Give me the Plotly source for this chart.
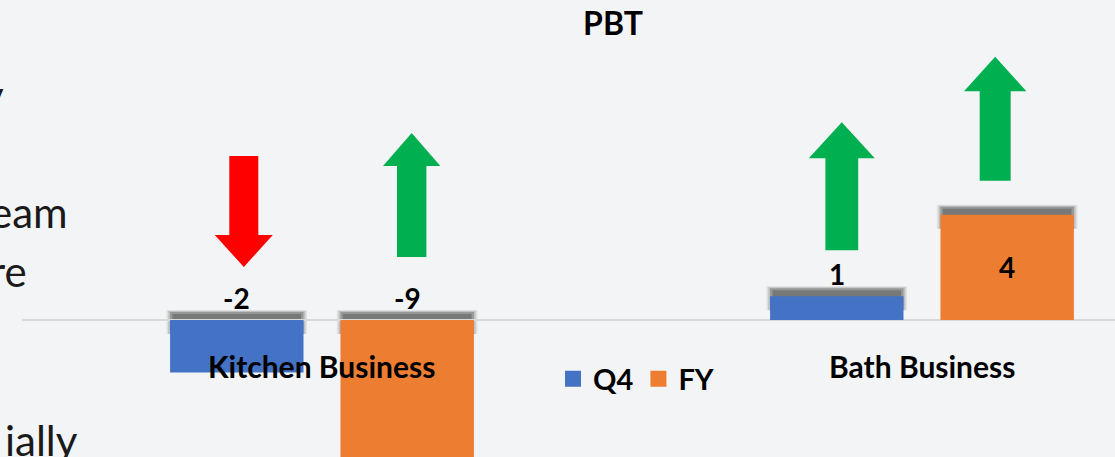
import plotly.graph_objects as go

# ---------------- data ----------------
categories = ["Kitchen Business", "Bath Business"]
series_names = ["Q4", "FY"]
q4_values = [-2, 0.9]
fy_values = [-9, 4]
q4_arrows = ["down", "up"]
fy_arrows = ["up", "up"]
chart_title = "PBT"
slide_fragments = ["y", "eam", "re", "ially"]

# ---------------- style ----------------
W, H = 1115, 457
ML = 22
BG = "#F3F4F6"
FONT = "Lato"
colors = {"Q4": "#4472C4", "FY": "#ED7D31"}
arrow_colors = {"up": "#00B050", "down": "#FF0000"}
BARGAP = 0.432
BARGROUPGAP = 0.217
X_RANGE = [-0.5, 1.3217]
Y_RANGE = [-5.21, 12.17]

# arrow geometry in pixels: (dx, gap above bar top, length, shaft half-w, head half-w, head length)
arrow_geom = {
    ("Q4", 0): (7, 53, 111, 14.5, 29, 32),
    ("FY", 0): (4.5, 63, 124, 14.7, 28.7, 33),
    ("Q4", 1): (5, 46, 128, 16.4, 33, 36),
    ("FY", 1): (-12, 34, 124, 15.5, 31.2, 34.4),
}
label_inside = {("FY", 1)}
# slide fragment placement (pixel right edge, pixel vertical centre)
fragment_pos = {"y": (6, 95), "eam": (70, 212), "re": (29, 271), "ially": (80, 440)}

series = [("Q4", q4_values, q4_arrows), ("FY", fy_values, fy_arrows)]
x_idx = list(range(len(categories)))

fig = go.Figure()
for name, vals, _ in series:
    fig.add_trace(go.Bar(
        x=x_idx, y=vals, name=name, showlegend=False, hoverinfo="skip",
        marker=dict(color=colors[name], line=dict(width=0)),
    ))
# legend entries (square markers)
for name, _, _ in series:
    fig.add_trace(go.Scatter(
        x=[None], y=[None], mode="markers", name=name,
        marker=dict(symbol="square", size=18, color=colors[name]),
    ))

group_w = 1 - BARGAP
slot_w = group_w / len(series)
bar_w = slot_w * (1 - BARGROUPGAP)

shapes = []
annotations = []
for k, (name, vals, dirs) in enumerate(series):
    for i, v in enumerate(vals):
        c = i - group_w / 2 + slot_w * (k + 0.5)
        top = max(v, 0)
        # soft shadow above the bar top
        for pad, y1, alpha in [(0.006, 10, 0.10), (0.003, 9, 0.20), (0.0, 8, 0.30), (-0.004, 6, 0.35)]:
            shapes.append(dict(
                type="rect", xref="x", yref="y", ysizemode="pixel", yanchor=top,
                x0=c - bar_w / 2 - pad, x1=c + bar_w / 2 + pad, y0=-14, y1=y1,
                fillcolor=f"rgba(60,60,60,{alpha})", line=dict(width=0), layer="below",
            ))
        # arrow
        dx, g, L, sw, hw, hl = arrow_geom[(name, i)]
        if dirs[i] == "up":
            pts = [(dx - sw, g), (dx + sw, g), (dx + sw, g + L - hl), (dx + hw, g + L - hl),
                   (dx, g + L), (dx - hw, g + L - hl), (dx - sw, g + L - hl)]
        else:
            pts = [(dx, g), (dx + hw, g + hl), (dx + sw, g + hl), (dx + sw, g + L),
                   (dx - sw, g + L), (dx - sw, g + hl), (dx - hw, g + hl)]
        path = "M " + " L ".join(f"{px:.1f},{py:.1f}" for px, py in pts) + " Z"
        shapes.append(dict(
            type="path", xref="x", yref="y", xsizemode="pixel", ysizemode="pixel",
            xanchor=c, yanchor=top, path=path, fillcolor=arrow_colors[dirs[i]],
            line=dict(width=0), layer="above",
        ))
        # data label
        if (name, i) in label_inside:
            ly, shift = v / 2, 0
        else:
            ly, shift = top, 22
        annotations.append(dict(
            x=c, y=ly, xref="x", yref="y", yshift=shift, text=f"{v:.0f}", showarrow=False,
            xanchor="center", yanchor="middle",
            font=dict(family=FONT, size=28, color="#000000", weight="bold"),
        ))

# category labels at the zero line
for i, cat in enumerate(categories):
    annotations.append(dict(
        x=i, y=0, xref="x", yref="y", yshift=-46, text=cat, showarrow=False,
        xanchor="center", yanchor="middle",
        font=dict(family=FONT, size=30, color="#000000", weight="bold"),
    ))

# fragments of slide text at the left edge
plot_w = W - ML
for frag in slide_fragments:
    rx, cy = fragment_pos[frag]
    annotations.append(dict(
        x=(rx - ML) / plot_w, y=(H - cy) / H, xref="paper", yref="paper", text=frag,
        showarrow=False, xanchor="right", yanchor="middle",
        font=dict(family=FONT, size=42, color="#1A1A1A"),
    ))

fig.update_layout(
    width=W, height=H, margin=dict(l=ML, r=0, t=0, b=0),
    paper_bgcolor=BG, plot_bgcolor=BG,
    barmode="group", bargap=BARGAP, bargroupgap=BARGROUPGAP,
    xaxis=dict(range=X_RANGE, visible=False, fixedrange=True),
    yaxis=dict(range=Y_RANGE, showgrid=False, zeroline=True, zerolinecolor="#D9D9D9",
               zerolinewidth=2, showticklabels=False, ticks="", showline=False, fixedrange=True),
    title=dict(text=chart_title, x=613 / W, xref="container", y=1 - 24 / H, yref="container",
               xanchor="center", yanchor="middle",
               font=dict(family=FONT, size=32, color="#000000", weight="bold")),
    legend=dict(orientation="h", x=(636 - ML) / plot_w, xanchor="center", y=(H - 379) / H,
                yanchor="middle", bgcolor="rgba(0,0,0,0)",
                font=dict(family=FONT, size=29, color="#000000", weight="bold")),
    shapes=shapes, annotations=annotations, showlegend=True,
)

fig.write_html(
    "out.html",
    config={"displayModeBar": False},
    post_script="document.body.style.margin='0';document.body.style.background='" + BG + "';",
)
